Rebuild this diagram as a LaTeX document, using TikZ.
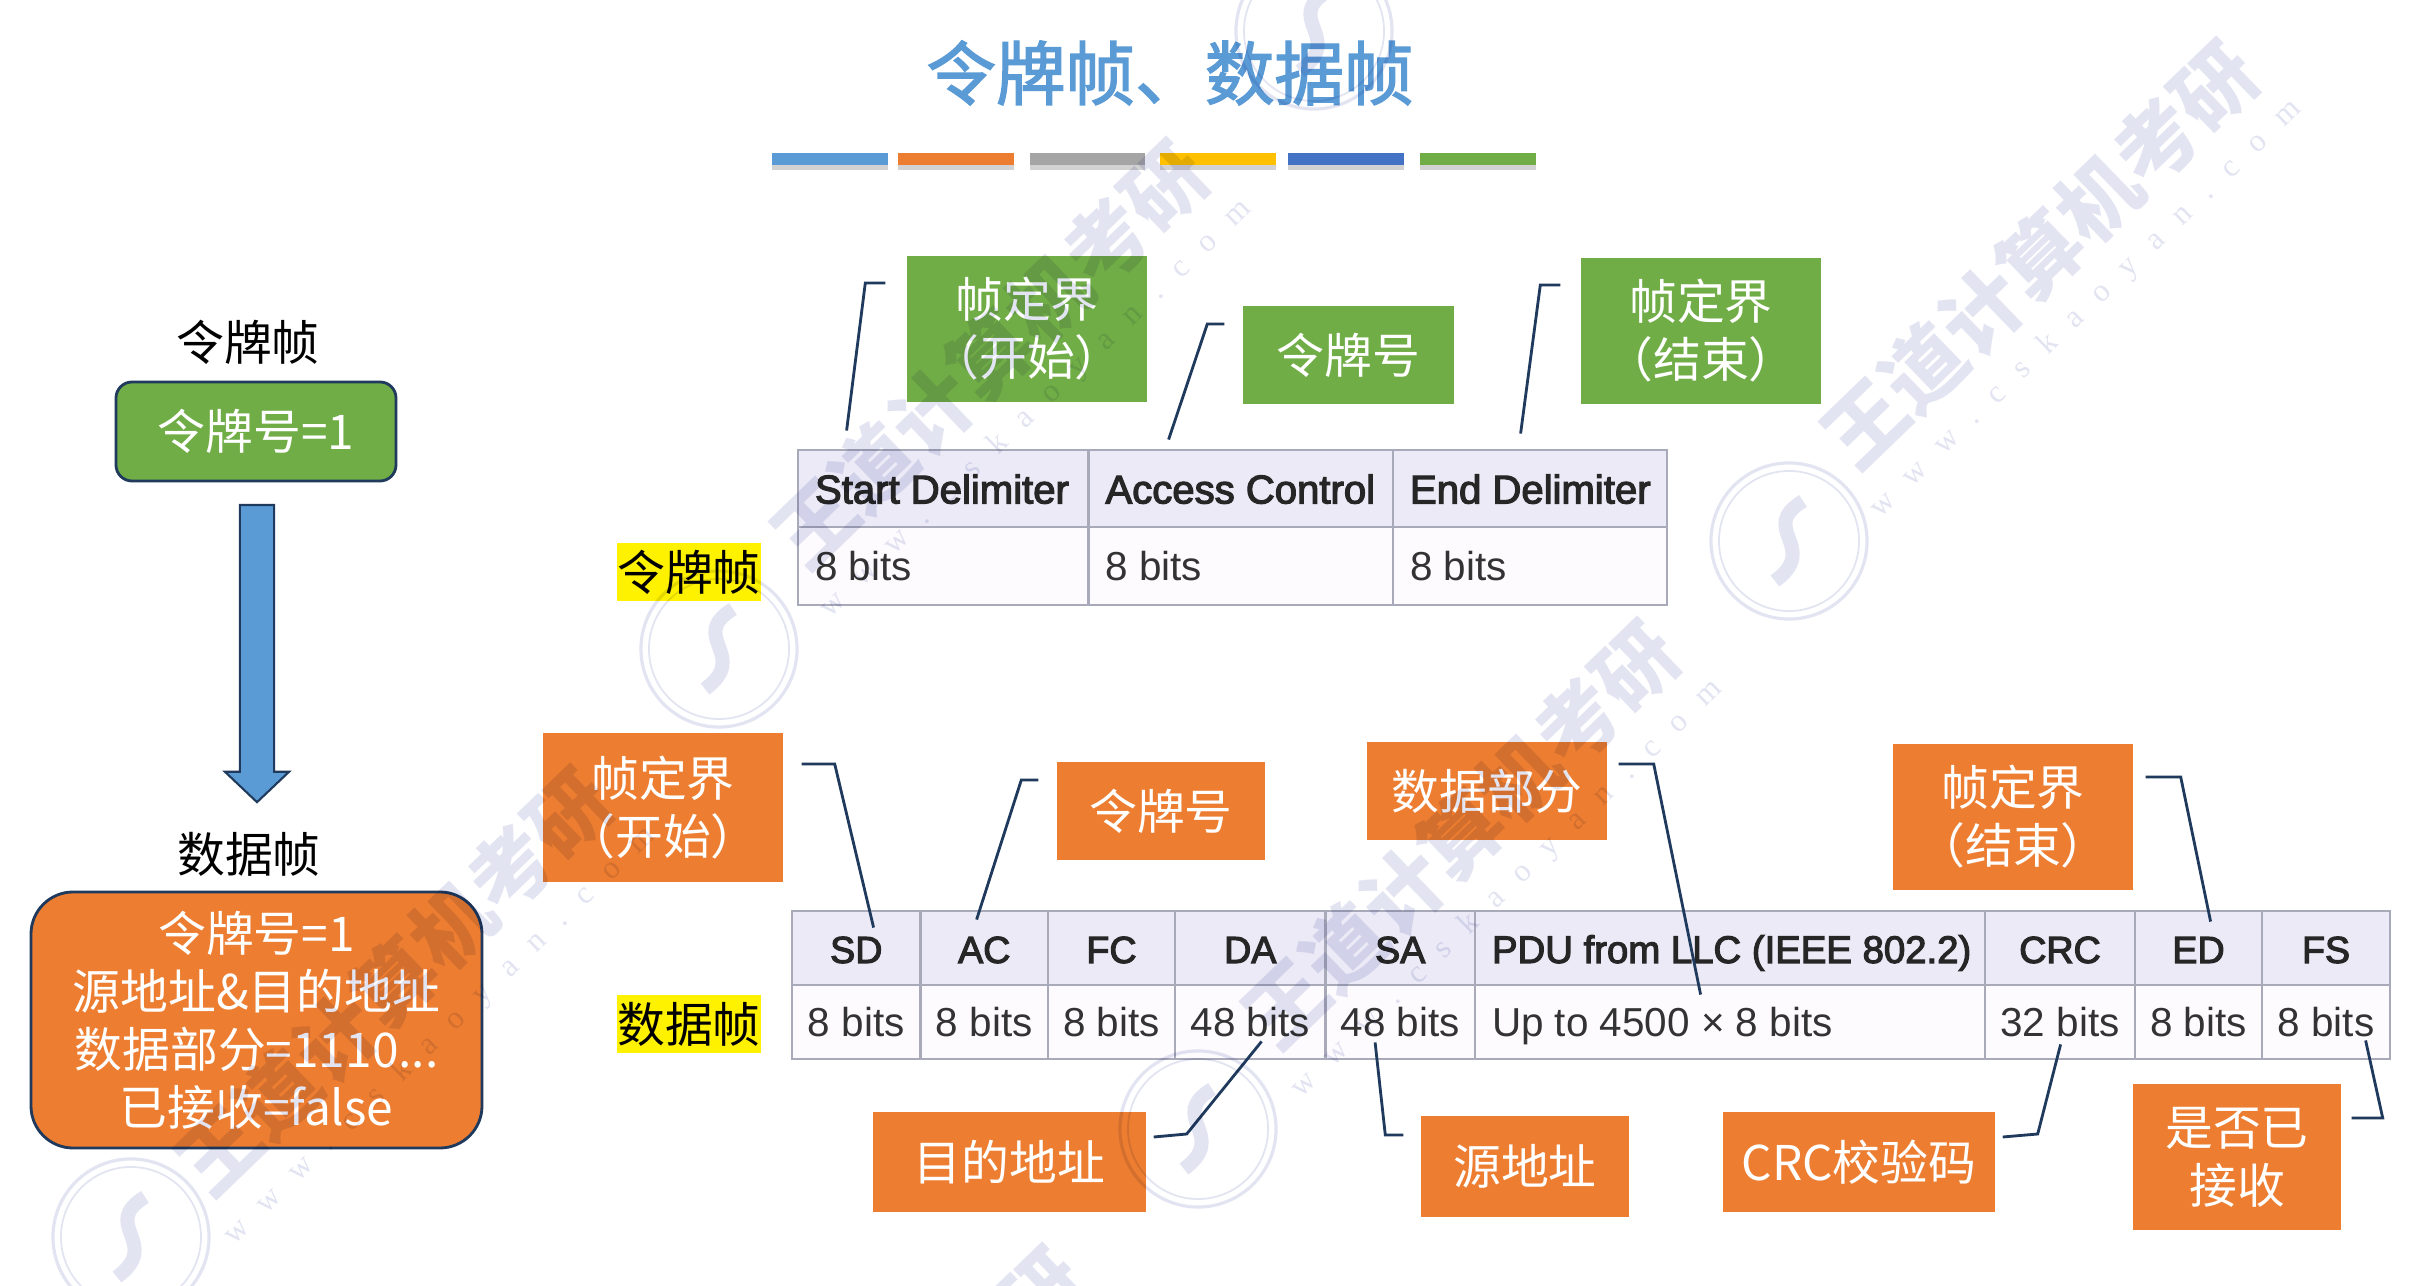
\documentclass[tikz,border=0pt]{standalone}
\usepackage{fontspec}
\usepackage{xcolor}
\usetikzlibrary{shapes.arrows, shadows}
\setmainfont{Noto Sans CJK SC}
\newfontfamily\titlefont[FakeBold=2]{Noto Sans CJK SC}
\newfontfamily\cellfont{Liberation Sans}
\newfontfamily\headfont[FakeBold=3]{Liberation Sans}
\newfontfamily\markfont[LetterSpace=70]{Liberation Serif}
\definecolor{tokgreen}{HTML}{70AD47}
\definecolor{datorange}{HTML}{ED7D31}
\definecolor{barblue}{HTML}{5B9BD5}
\definecolor{bargray}{HTML}{A5A5A5}
\definecolor{baryellow}{HTML}{FFC000}
\definecolor{bardeep}{HTML}{4472C4}
\definecolor{calloutnavy}{HTML}{1F3A5C}
\definecolor{cellline}{HTML}{A9AAB9}
\definecolor{headfill}{HTML}{EBEAF6}
\definecolor{bodyfill}{HTML}{FDFBFE}
\definecolor{markink}{HTML}{E3E4F2}
\tikzset{
  cjk/.style={font=\fontsize{13.6}{16.5}\selectfont},
  tagsize/.style 2 args={minimum width=#1*0.01cm, minimum height=#2*0.01cm, inner sep=0pt, align=center},
  greentag/.style 2 args={tagsize={#1}{#2}, cjk, fill=tokgreen, text=white},
  orangetag/.style 2 args={tagsize={#1}{#2}, cjk, fill=datorange, text=white},
  yellowtag/.style={tagsize={144}{58}, cjk, fill=yellow, text=black},
  headcell/.style={draw=cellline, line width=0.8pt, fill=headfill, inner sep=0pt, text=black!85,
    font=\headfont\fontsize{11.4}{14}\selectfont, text height=8.5pt, text depth=0pt},
  bodycell/.style={draw=cellline, line width=0.8pt, fill=bodyfill, inner sep=0pt, text=black!80,
    font=\cellfont\fontsize{11.5}{14}\selectfont, text height=8.5pt, text depth=0pt},
  callout/.style={draw=calloutnavy, line width=0.8pt},
  colorbar/.style={inner sep=0pt, minimum height=0.12cm, drop shadow={shadow xshift=0pt, shadow yshift=-0.05cm, opacity=0.35}},
  wmtext/.style={text=markink, rotate=44}
}
\begin{document}
\begin{tikzpicture}[x=0.01cm, y=-0.01cm]
  \useasboundingbox (0,0) rectangle (2424,1286);
  \fill[white] (0,0) rectangle (2424,1286);

  % Title and colour bars
  \node[text=barblue, font=\titlefont\fontsize{19.8}{24}\selectfont, inner sep=0pt] (title) at (1170,73) {令牌帧、数据帧};
  \foreach \barname/\xa/\xb/\barcol in {b1/772/888/barblue, b2/898/1014/datorange, b3/1030/1145/bargray,
      b4/1160/1276/baryellow, b5/1288/1404/bardeep, b6/1420/1536/tokgreen}
    \node[colorbar, fill=\barcol, minimum width={(\xb-\xa)*0.01cm}] (\barname) at ({(\xa+\xb)/2},159) {};

  % Left column
  \node[cjk, inner sep=0pt] (toklabel) at (248,342) {令牌帧};
  \node[draw=calloutnavy, line width=0.8pt, fill=tokgreen, rounded corners=0.16cm, tagsize={280}{99}, cjk, text=white] (tokbox) at (256,431.5) {令牌号=1};
  \node[single arrow, rotate=-90, draw=calloutnavy, line width=0.6pt, fill=barblue, inner sep=0pt, text height=0.32cm, text depth=0pt,
    minimum width=0.62cm, minimum height=2.97cm, single arrow head extend=0.15cm, single arrow tip angle=93] (turnarrow) at (257,645.5) {};
  \node[cjk, inner sep=0pt] (datlabel) at (249,854) {数据帧};
  \node[draw=calloutnavy, line width=0.8pt, fill=datorange, rounded corners=0.42cm, tagsize={451}{256}, cjk, text=white] (datbox) at (256.5,1020) {令牌号=1\\源地址\&目的地址\\数据部分=1110...\\已接收=false};

  % Token frame table
  \node[yellowtag] (tokmark) at (689,572) {令牌帧};
  \foreach \cell/\xa/\xb/\headtxt/\bodytxt in {tstart/798/1088.5/Start Delimiter/8 bits,
      taccess/1088.5/1393/Access Control/8 bits, tend/1393/1667/End Delimiter/8 bits} {
    \node[headcell, minimum width={(\xb-\xa)*0.01cm}, minimum height=0.77cm] (\cell head) at ({(\xa+\xb)/2},488.5) {};
    \node[bodycell, minimum width={(\xb-\xa)*0.01cm}, minimum height=0.78cm] (\cell body) at ({(\xa+\xb)/2},566) {};
    \node[headcell, draw=none, fill=none, anchor=west] (\cell headtxt) at ([xshift=0.17cm]\cell head.west) {\headtxt};
    \node[bodycell, draw=none, fill=none, anchor=west] (\cell bodytxt) at ([xshift=0.17cm]\cell body.west) {\bodytxt};
  }

  % Data frame table
  \node[yellowtag] (datmark) at (689,1024) {数据帧};
  \foreach \cell/\xa/\xb/\headtxt/\bodytxt in {sd/792/920.5/SD/8 bits, ac/920.5/1048/AC/8 bits, fc/1048/1175/FC/8 bits,
      da/1175/1325.5/DA/48 bits, sa/1325.5/1475/SA/48 bits, pdu/1475/1985/{}/{}, crc/1985/2135/CRC/32 bits,
      ed/2135/2262/ED/8 bits, fs/2262/2390/FS/8 bits} {
    \node[headcell, font=\headfont\fontsize{10.7}{14}\selectfont, minimum width={(\xb-\xa)*0.01cm}, minimum height=0.74cm] (\cell head) at ({(\xa+\xb)/2},948) {\headtxt};
    \node[bodycell, minimum width={(\xb-\xa)*0.01cm}, minimum height=0.74cm] (\cell body) at ({(\xa+\xb)/2},1022) {\bodytxt};
  }
  \node[headcell, font=\headfont\fontsize{10.9}{14}\selectfont, draw=none, fill=none, anchor=west] (pduheadtxt) at ([xshift=0.17cm]pduhead.west) {PDU from LLC (IEEE 802.2)};
  \node[bodycell, draw=none, fill=none, anchor=west] (pdubodytxt) at ([xshift=0.17cm]pdubody.west) {Up to 4500 × 8 bits};

  % Tags
  \node[greentag={240}{146}] (tokstart) at (1027,329) {帧定界\\（开始）};
  \node[greentag={211}{98}] (toknum) at (1348.5,355) {令牌号};
  \node[greentag={240}{146}] (tokend) at (1701,331) {帧定界\\（结束）};
  \node[orangetag={240}{149}] (datstart) at (663,807.5) {帧定界\\（开始）};
  \node[orangetag={208}{98}] (datnum) at (1161,811) {令牌号};
  \node[orangetag={240}{98}] (datpart) at (1487,791) {数据部分};
  \node[orangetag={240}{146}] (datend) at (2013,817) {帧定界\\（结束）};
  \node[orangetag={273}{100}] (dstaddr) at (1009.5,1162) {目的地址};
  \node[orangetag={208}{101}] (srcaddr) at (1525,1166.5) {源地址};
  \node[orangetag={272}{100}] (crccheck) at (1859,1162) {CRC校验码};
  \node[orangetag={208}{146}] (recvflag) at (2237,1157) {是否已\\接收};

  % Callout lines
  \draw[callout] ([shift={(-21,-46)}]tokstart.west) -- ++(-20,0) -- ([shift={(50,-18)}]tstarthead.north west);
  \draw[callout] ([shift={(-18,-31)}]toknum.west) -- ++(-17,0) -- ([shift={(81.5,-9)}]taccesshead.north west);
  \draw[callout] ([shift={(-20,-46)}]tokend.west) -- ++(-20,0) -- ([shift={(129,-15)}]tendhead.north west);
  \draw[callout] ([shift={(18,-43.5)}]datstart.east) -- ++(33,0) -- ([shift={(83,18)}]sdhead.north west);
  \draw[callout] ([shift={(-18,-31)}]datnum.west) -- ++(-17,0) -- ([shift={(57.5,10)}]achead.north west);
  \draw[callout] ([shift={(11,-27)}]datpart.east) -- ++(35,0) -- ([shift={(227,11)}]pdubody.north west);
  \draw[callout] ([shift={(12,-40)}]datend.east) -- ++(35,0) -- ([shift={(77,12)}]edhead.north west);
  \draw[callout] ([shift={(7,-25)}]dstaddr.east) -- ++(33,-3) -- ([shift={(88,-19)}]dabody.south west);
  \draw[callout] ([shift={(-17,-31.5)}]srcaddr.west) -- ++(-18,0) -- ([shift={(51,-18)}]sabody.south west);
  \draw[callout] ([shift={(7,-25)}]crccheck.east) -- ++(35,-3) -- ([shift={(77,-16)}]crcbody.south west);
  \draw[callout] ([shift={(10,-39)}]recvflag.east) -- ++(31,0) -- ([shift={(105,-20)}]fsbody.south west);

  % Watermarks
  \begin{scope}[blend mode=multiply]
  \foreach \i/\wx/\wy in {1/2040/255, 2/990/355, 3/1461/835, 4/394/982, 5/866/1461} {
    \node[wmtext, font=\bfseries\fontsize{23}{28}\selectfont] (wmname\i) at (\wx,\wy) {王道计算机考研};
    \node[wmtext, font=\markfont\fontsize{9}{11}\selectfont] (wmsite\i) at (\wx+46,\wy+54) {www.cskaoyan.com};
  }
  \foreach \i/\wx/\wy in {1/1789/541, 2/719/649, 3/1198/1129, 4/131/1237, 5/1314/31} {
    \draw[markink, line width=0.9pt] (\wx,\wy) circle [radius=0.78cm];
    \draw[markink, line width=0.5pt] (\wx,\wy) circle [radius=0.7cm];
    \draw[markink, line width=4pt] (\wx+14,\wy-40) .. controls (\wx-32,\wy-12) and (\wx+32,\wy+6) .. (\wx-14,\wy+40);
  }
  \end{scope}
\end{tikzpicture}
\end{document}
